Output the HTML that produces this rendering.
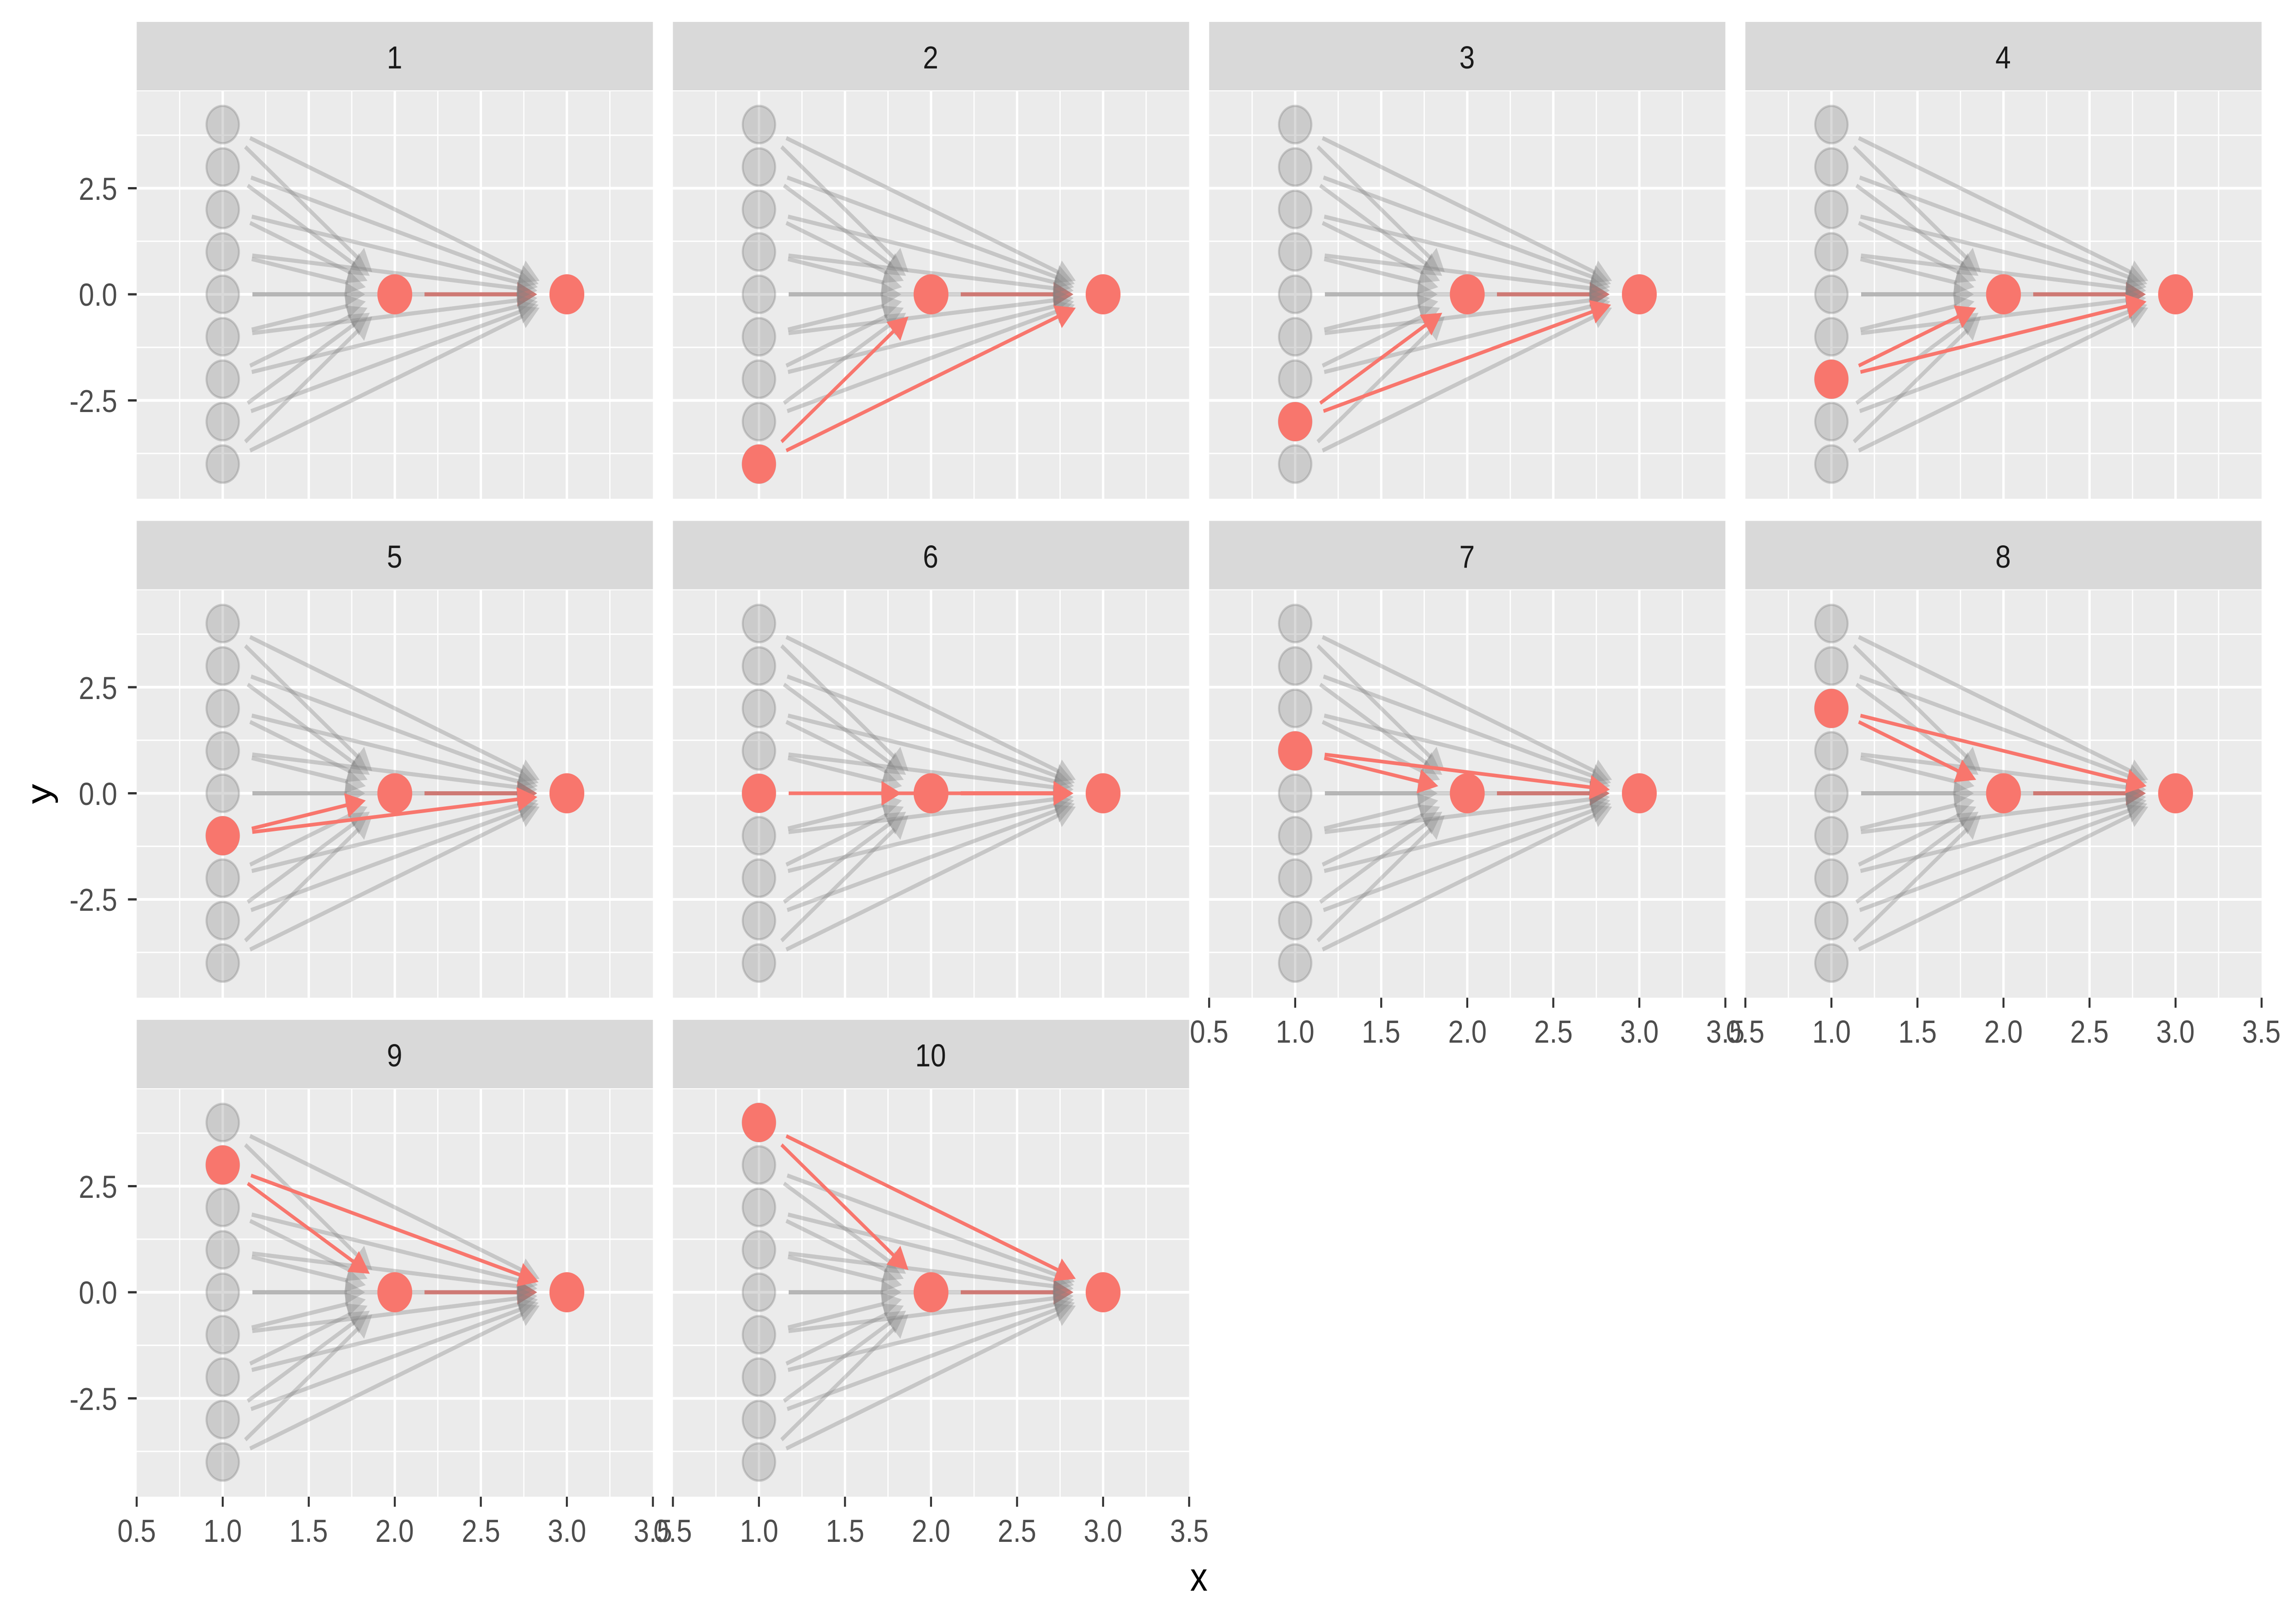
<!DOCTYPE html>
<html><head><meta charset="utf-8"><style>
html,body{margin:0;padding:0;background:#fff;width:100%;height:100%;overflow:hidden;}
svg{display:block;width:100vw;height:100vh;}
text{font-family:"Liberation Sans",Arial,sans-serif;}
</style></head><body>
<svg id="s" viewBox="0 0 5760 3559" preserveAspectRatio="none" xmlns="http://www.w3.org/2000/svg">
<rect width="5760" height="3559" fill="#fff"/>
<g id="panels"></g>
<g font-size="70" fill="#1a1a1a" text-anchor="middle">
<text x="996" y="150">1</text><text x="2349" y="150">2</text><text x="3703" y="150">3</text><text x="5056" y="150">4</text>
<text x="996" y="1244">5</text><text x="2349" y="1244">6</text><text x="3703" y="1244">7</text><text x="5056" y="1244">8</text>
<text x="996" y="2337">9</text><text x="2349" y="2337">10</text>
</g>
<g font-size="70" fill="#4d4d4d" text-anchor="end">
<text x="296" y="438">2.5</text><text x="296" y="670">0.0</text><text x="296" y="903">-2.5</text>
<text x="296" y="1532">2.5</text><text x="296" y="1764">0.0</text><text x="296" y="1996">-2.5</text>
<text x="296" y="2625">2.5</text><text x="296" y="2857">0.0</text><text x="296" y="3090">-2.5</text>
</g>
<g font-size="70" fill="#4d4d4d" text-anchor="middle">
<text x="345" y="3379">0.5</text><text x="562" y="3379">1.0</text><text x="779" y="3379">1.5</text><text x="996" y="3379">2.0</text><text x="1214" y="3379">2.5</text><text x="1431" y="3379">3.0</text><text x="1648" y="3379">3.5</text>
<text x="1698" y="3379">0.5</text><text x="1916" y="3379">1.0</text><text x="2133" y="3379">1.5</text><text x="2350" y="3379">2.0</text><text x="2567" y="3379">2.5</text><text x="2784" y="3379">3.0</text><text x="3002" y="3379">3.5</text>
<text x="3052" y="2285">0.5</text><text x="3269" y="2285">1.0</text><text x="3486" y="2285">1.5</text><text x="3704" y="2285">2.0</text><text x="3921" y="2285">2.5</text><text x="4138" y="2285">3.0</text><text x="4355" y="2285">3.5</text>
<text x="4405" y="2285">0.5</text><text x="4623" y="2285">1.0</text><text x="4840" y="2285">1.5</text><text x="5057" y="2285">2.0</text><text x="5274" y="2285">2.5</text><text x="5491" y="2285">3.0</text><text x="5708" y="2285">3.5</text>
</g>
<text x="3026" y="3486" font-size="88" fill="#000" text-anchor="middle">x</text>
<text x="0" y="0" font-size="88" fill="#000" text-anchor="middle" transform="translate(128,1740) rotate(-90)">y</text>
</svg>
<script>
(function(){
var NS="http://www.w3.org/2000/svg";
var g=document.getElementById("panels");
function el(n,a,p){var e=document.createElementNS(NS,n);for(var k in a)e.setAttribute(k,a[k]);(p||g).appendChild(e);return e;}
var W=1303,H=893,U=W/3,V=93;
var GRAY="rgba(128,128,128,0.35)",RED="#F8766D";
function seg(x1,y1,x2,y2,col,sw){
  var dx=x2-x1,dy=y2-y1,L=Math.sqrt(dx*dx+dy*dy),ux=dx/L,uy=dy/L;
  var sx=x1+ux*75,sy=y1+uy*75,ex=x2-ux*75,ey=y2-uy*75;
  var al=50,hw=27;
  var bx=ex-ux*al,by=ey-uy*al;
  el("line",{x1:sx,y1:sy,x2:bx+ux*4,y2:by+uy*4,stroke:col,"stroke-width":sw});
  el("polygon",{points:ex+","+ey+" "+(bx-uy*hw)+","+(by+ux*hw)+" "+(bx+uy*hw)+","+(by-ux*hw),fill:col});
}
for(var i=0;i<10;i++){
  var c=i%4,r=Math.floor(i/4);
  var L0=345+c*1353.5,T0=200+r*1093.5;
  var X=function(x){return L0+(x-0.5)*U;};
  var Y=function(y){return T0+445-y*V;};
  el("rect",{x:L0,y:T0-152,width:W,height:150,fill:"#d9d9d9"});
  el("rect",{x:L0,y:T0,width:W,height:H,fill:"#ebebeb"});
  var j,v;
  for(j=0;j<7;j++){v=0.75+j*0.5;if(v<3.5)el("line",{x1:X(v),y1:T0,x2:X(v),y2:T0+H,stroke:"#fff","stroke-width":3});}
  [-3.75,-1.25,1.25,3.75].forEach(function(v){el("line",{x1:L0,y1:Y(v),x2:L0+W,y2:Y(v),stroke:"#fff","stroke-width":3});});
  [1,1.5,2,2.5,3].forEach(function(v){el("line",{x1:X(v),y1:T0,x2:X(v),y2:T0+H,stroke:"#fff","stroke-width":6});});
  [-2.5,0,2.5].forEach(function(v){el("line",{x1:L0,y1:Y(v),x2:L0+W,y2:Y(v),stroke:"#fff","stroke-width":6});});
  if(c==0){[-2.5,0,2.5].forEach(function(v){el("line",{x1:L0-22,y1:Y(v),x2:L0,y2:Y(v),stroke:"#333","stroke-width":5});});}
  if(r==2||(r==1&&c>=2)){for(j=0;j<7;j++){v=0.5+j*0.5;el("line",{x1:X(v),y1:T0+H,x2:X(v),y2:T0+H+22,stroke:"#333","stroke-width":5});}}
  var hi=(i==0)?null:(i-5);
  seg(X(2),Y(0),X(3),Y(0),RED,9);
  for(var y=-4;y<=4;y++){
    el("circle",{cx:X(1),cy:Y(y),r:41,fill:"rgba(128,128,128,0.3)",stroke:"rgba(128,128,128,0.35)","stroke-width":5});
  }
  for(y=-4;y<=4;y++){
    if(y===hi)continue;
    seg(X(1),Y(y),X(2),Y(0),GRAY,9);
    seg(X(1),Y(y),X(3),Y(0),GRAY,9);
  }
  if(hi!==null){
    seg(X(1),Y(hi),X(2),Y(0),RED,8);
    seg(X(1),Y(hi),X(3),Y(0),RED,8);
    el("circle",{cx:X(1),cy:Y(hi),r:43,fill:RED});
  }
  el("circle",{cx:X(2),cy:Y(0),r:44,fill:RED});
  el("circle",{cx:X(3),cy:Y(0),r:44,fill:RED});
}
})();
</script>
</body></html>
